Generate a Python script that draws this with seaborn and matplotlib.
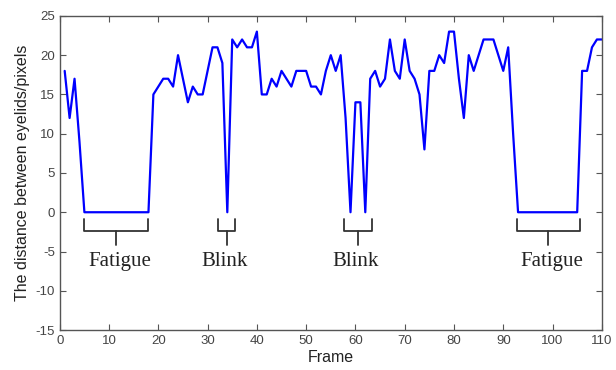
import numpy as np
import pandas as pd
import matplotlib
matplotlib.use('Agg')
import matplotlib.pyplot as plt
import seaborn as sns

# Datos: distancia entre párpados por frame
frames = list(range(1, 111))
distance = [
    18, 12, 17, 9, 0, 0, 0, 0, 0, 0,
    0, 0, 0, 0, 0, 0, 0, 0, 15, 16,
    17, 17, 16, 20, 17, 14, 16, 15, 15, 18,
    21, 21, 19, 0, 22, 21, 22, 21, 21, 23,
    15, 15, 17, 16, 18, 17, 16, 18, 18, 18,
    16, 16, 15, 18, 20, 18, 20, 12, 0, 14,
    14, 0, 17, 18, 16, 17, 22, 18, 17, 22,
    18, 17, 15, 8, 18, 18, 20, 19, 23, 23,
    17, 12, 20, 18, 20, 22, 22, 22, 20, 18,
    21, 10, 0, 0, 0, 0, 0, 0, 0, 0,
    0, 0, 0, 0, 0, 18, 18, 21, 22, 22,
]

# Anotaciones: etiqueta, inicio, fin, centro del texto
ann_labels = ['Fatigue', 'Blink', 'Blink', 'Fatigue']
ann_start = [5, 32.2, 57.6, 92.7]
ann_end = [18, 35.6, 63.4, 105.6]
ann_text_x = [12.2, 33.5, 60, 99.8]

df = pd.DataFrame({'Frame': frames, 'Distance': distance})

sns.set_style('ticks')
plt.rcParams['font.family'] = ['Liberation Sans', 'DejaVu Sans']
plt.rcParams['axes.unicode_minus'] = False

fig = plt.figure(figsize=(6.16, 3.70), dpi=100)
ax = fig.add_axes([0.097, 0.108, 0.88, 0.849])
sns.lineplot(x='Frame', y='Distance', data=df, color='#0000ff', linewidth=1.6, ax=ax)

# Corchetes bajo las zonas de fatiga / parpadeo
for lab, x0, x1, xt in zip(ann_labels, ann_start, ann_end, ann_text_x):
    xm = (x0 + x1) / 2
    ax.plot([x0, x0, x1, x1], [-0.9, -2.4, -2.4, -0.9], color='#333333', lw=1.3)
    ax.plot([xm, xm], [-2.4, -4.2], color='#333333', lw=1.3)
    ax.text(xt, -6.3, lab, ha='center', va='center', fontsize=15,
            family=['Liberation Serif', 'DejaVu Serif'], color='#222222')

ax.set_xlim(0, 110)
ax.set_ylim(-15, 25)
ax.set_xticks(np.arange(0, 111, 10))
ax.set_yticks(np.arange(-15, 26, 5))
ax.tick_params(direction='in', top=True, right=True, length=4, labelsize=9.5,
               colors='#555555', labelcolor='#444444')
for s in ax.spines.values():
    s.set_visible(True)
    s.set_color('#555555')
    s.set_linewidth(1.0)
ax.set_xlabel('Frame', fontsize=11.5, color='#222222', labelpad=2)
ax.set_ylabel('The distance between eyelids/pixels', fontsize=11.5, color='#222222', labelpad=4)

plt.savefig('out.png', dpi=100)
